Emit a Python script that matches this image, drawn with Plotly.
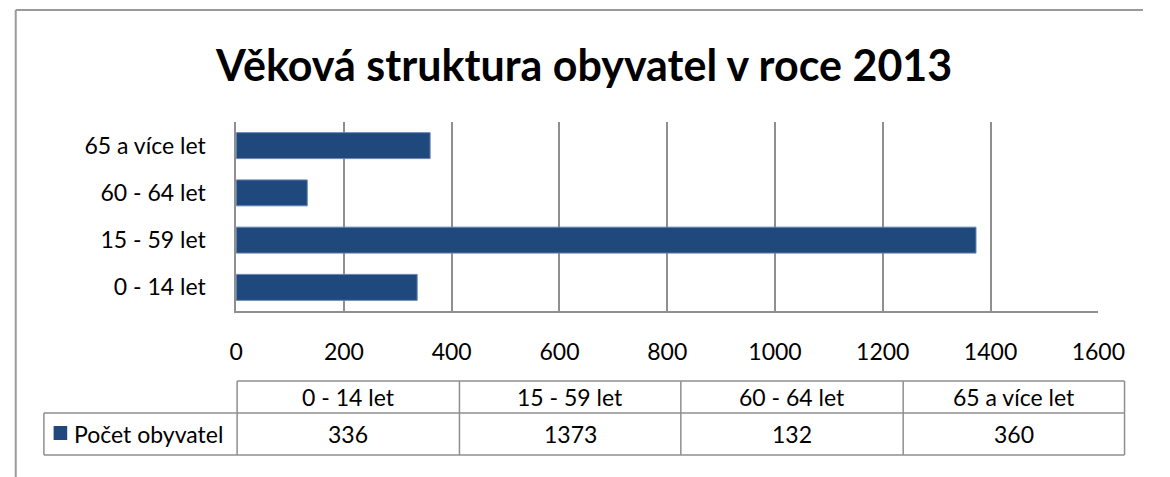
import plotly.graph_objects as go

# Data
categories = ['0 - 14 let', '15 - 59 let', '60 - 64 let', '65 a více let']
values = [336, 1373, 132, 360]
series_name = 'Počet obyvatel'
x_ticks = [0, 200, 400, 600, 800, 1000, 1200, 1400, 1600]

W, H = 1170, 477
BAR = '#1F497D'
GRID = '#8f8f8f'
FONT = 'Lato'
FS = 23


def px(x):
    return x / W


def py(y):
    return 1 - y / H


fig = go.Figure()
fig.add_trace(go.Bar(
    y=categories, x=values, orientation='h', name=series_name,
    marker=dict(color=BAR, line=dict(color='#6a87b3', width=1)),
    hoverinfo='x+y',
))

shapes = []
annotations = []

# outer frame (top and left only visible)
shapes.append(dict(type='line', xref='paper', yref='paper',
                   x0=px(9), y0=py(10), x1=px(W), y1=py(10),
                   line=dict(color='#9a9a9a', width=2)))
shapes.append(dict(type='line', xref='paper', yref='paper',
                   x0=px(9), y0=py(10), x1=px(9), y1=py(H),
                   line=dict(color='#9a9a9a', width=2)))

# data table
col_edges = [237, 466, 694, 923, 1151]
row_top, row_mid, row_bot = 381, 413, 455
leg_left = 38
line = dict(color=GRID, width=1.5)

def hline(x0, x1, y):
    shapes.append(dict(type='line', xref='paper', yref='paper',
                       x0=px(x0), x1=px(x1), y0=py(y), y1=py(y), line=line))

def vline(x, y0, y1):
    shapes.append(dict(type='line', xref='paper', yref='paper',
                       x0=px(x), x1=px(x), y0=py(y0), y1=py(y1), line=line))

hline(col_edges[0], col_edges[-1], row_top)
hline(leg_left, col_edges[-1], row_mid)
hline(leg_left, col_edges[-1], row_bot)
vline(leg_left, row_mid, row_bot)
for xe in col_edges:
    vline(xe, row_top, row_bot)

for i, (cat, val) in enumerate(zip(categories, values)):
    xc = (col_edges[i] + col_edges[i + 1]) / 2
    annotations.append(dict(xref='paper', yref='paper', x=px(xc), y=py((row_top + row_mid) / 2),
                            text=cat, showarrow=False, xanchor='center', yanchor='middle',
                            font=dict(family=FONT, size=FS, color='#000')))
    annotations.append(dict(xref='paper', yref='paper', x=px(xc), y=py((row_mid + row_bot) / 2),
                            text=str(val), showarrow=False, xanchor='center', yanchor='middle',
                            font=dict(family=FONT, size=FS, color='#000')))

# legend key in the table
shapes.append(dict(type='rect', xref='paper', yref='paper',
                   x0=px(48), x1=px(62), y0=py(426), y1=py(440),
                   fillcolor=BAR, line=dict(width=0)))
annotations.append(dict(xref='paper', yref='paper', x=px(67), y=py(434),
                        text=series_name, showarrow=False, xanchor='left', yanchor='middle',
                        font=dict(family=FONT, size=FS, color='#000')))

# title
annotations.append(dict(xref='paper', yref='paper', x=px(594), y=py(64),
                        text='<b>Věková struktura obyvatel v roce 2013</b>', showarrow=False,
                        xanchor='center', yanchor='middle',
                        font=dict(family=FONT, size=43, color='#000')))

fig.update_layout(
    width=W, height=H,
    margin=dict(l=0, r=0, t=0, b=0),
    paper_bgcolor='white', plot_bgcolor='white',
    showlegend=False,
    bargap=0.45,
    shapes=shapes,
    annotations=annotations,
    font=dict(family=FONT, size=FS, color='#000'),
    xaxis=dict(domain=[px(236), px(1124)], range=[0, 1600], tickvals=x_ticks,
               showgrid=True, gridcolor=GRID, gridwidth=1.5,
               showline=True, linecolor=GRID, linewidth=1.5,
               zeroline=False, ticks='', ticklabelstandoff=20,
               tickfont=dict(family=FONT, size=FS, color='#000'), fixedrange=True),
    yaxis=dict(domain=[py(311), py(122)], categoryorder='array', categoryarray=categories,
               showline=True, linecolor=GRID, linewidth=1.5, showgrid=False,
               ticks='', ticklabelstandoff=24,
               tickfont=dict(family=FONT, size=FS, color='#000'), fixedrange=True),
)

fig.write_html('out.html', config={'displayModeBar': False},
               post_script="document.body.style.margin='0';document.body.style.overflow='hidden';")
